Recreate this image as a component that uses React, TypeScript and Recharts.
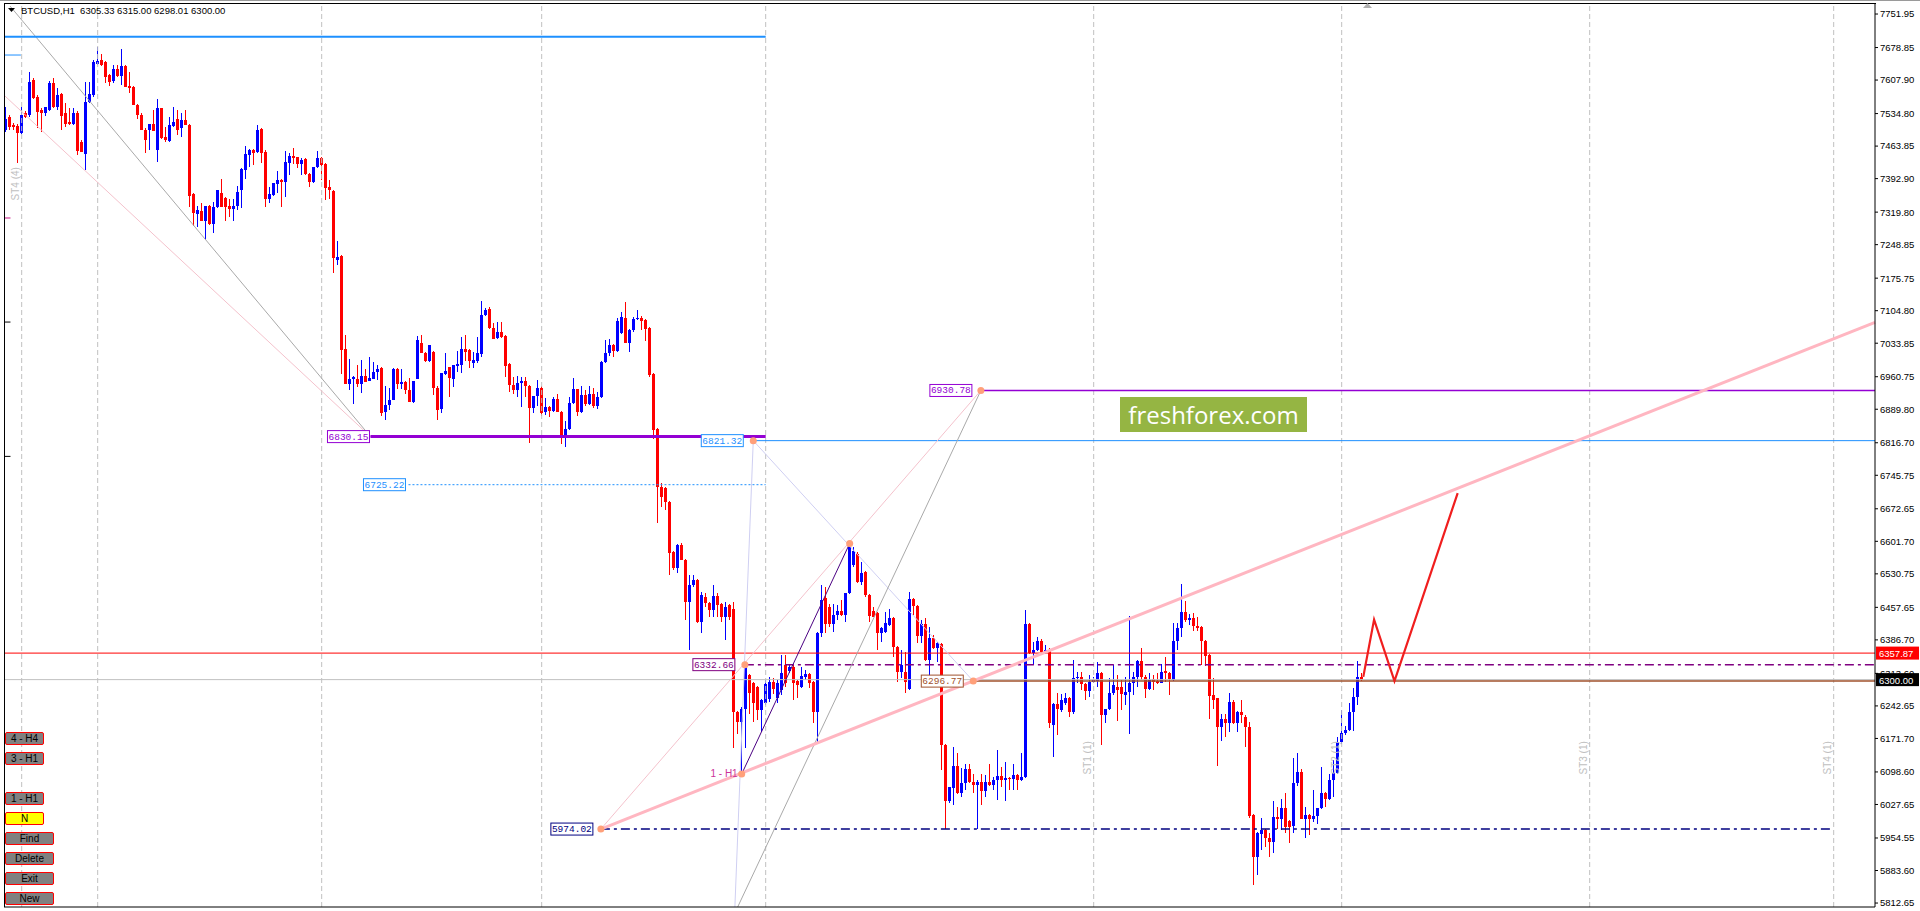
import React from "react";
import {
  Bar,
  ComposedChart,
  Line,
  ReferenceDot,
  ReferenceLine,
  XAxis,
  YAxis,
} from "recharts";

// BTCUSD H1, one row per bar: open, high, low, close
const ohlc: number[][] = [
  [7499, 7550, 7495, 7524], [7528, 7532, 7500, 7506], [7510, 7515, 7500, 7506], [7508, 7512, 7426, 7492],
  [7492, 7550, 7490, 7532], [7535, 7540, 7526, 7528], [7532, 7626, 7528, 7604], [7608, 7612, 7566, 7568],
  [7572, 7575, 7503, 7539], [7543, 7546, 7495, 7535], [7537, 7550, 7530, 7550], [7543, 7605, 7540, 7601],
  [7601, 7612, 7548, 7550], [7550, 7590, 7543, 7575], [7577, 7580, 7499, 7530], [7535, 7557, 7506, 7513],
  [7517, 7546, 7510, 7512], [7513, 7546, 7510, 7535], [7537, 7540, 7444, 7454], [7473, 7478, 7450, 7452],
  [7446, 7604, 7412, 7561], [7561, 7604, 7558, 7577], [7575, 7652, 7570, 7648], [7644, 7680, 7640, 7649],
  [7652, 7665, 7638, 7641], [7648, 7650, 7601, 7615], [7619, 7621, 7595, 7604], [7605, 7641, 7601, 7633],
  [7633, 7640, 7615, 7617], [7617, 7675, 7597, 7638], [7638, 7640, 7593, 7593], [7595, 7626, 7579, 7590],
  [7592, 7595, 7553, 7553], [7553, 7556, 7524, 7532], [7532, 7535, 7499, 7499], [7500, 7503, 7449, 7477],
  [7499, 7513, 7455, 7513], [7512, 7543, 7497, 7497], [7455, 7566, 7430, 7546], [7546, 7548, 7480, 7481],
  [7484, 7506, 7473, 7477], [7476, 7528, 7473, 7510], [7508, 7550, 7506, 7517], [7524, 7543, 7488, 7499],
  [7503, 7537, 7484, 7521], [7521, 7543, 7510, 7510], [7510, 7512, 7332, 7355], [7359, 7362, 7289, 7317],
  [7316, 7333, 7288, 7324], [7322, 7339, 7300, 7301], [7301, 7333, 7259, 7333], [7333, 7335, 7291, 7294],
  [7294, 7342, 7275, 7332], [7330, 7369, 7328, 7368], [7361, 7393, 7330, 7330], [7350, 7352, 7301, 7332],
  [7333, 7348, 7310, 7327], [7327, 7349, 7301, 7334], [7333, 7377, 7324, 7364], [7368, 7415, 7328, 7413],
  [7412, 7464, 7393, 7446], [7444, 7457, 7419, 7455], [7455, 7458, 7422, 7448], [7450, 7510, 7448, 7500],
  [7501, 7504, 7428, 7449], [7452, 7455, 7332, 7348], [7348, 7374, 7340, 7359], [7357, 7384, 7355, 7384],
  [7381, 7410, 7361, 7390], [7390, 7393, 7330, 7386], [7386, 7453, 7352, 7430], [7428, 7449, 7401, 7442],
  [7442, 7459, 7425, 7437], [7439, 7441, 7415, 7425], [7424, 7437, 7401, 7433], [7435, 7437, 7401, 7403],
  [7404, 7406, 7374, 7386], [7386, 7419, 7384, 7419], [7419, 7454, 7415, 7437], [7437, 7440, 7390, 7423],
  [7425, 7428, 7346, 7372], [7374, 7390, 7348, 7367], [7366, 7369, 7186, 7219], [7216, 7257, 7204, 7221],
  [7224, 7226, 6967, 7020], [7022, 7052, 6945, 6945], [6945, 6999, 6932, 6955], [6955, 6962, 6901, 6960],
  [6956, 6986, 6938, 6945], [6945, 6997, 6926, 6962], [6962, 6977, 6950, 6950], [6952, 7004, 6951, 6959],
  [6955, 6993, 6955, 6972], [6970, 6986, 6953, 6978], [6979, 6981, 6875, 6881], [6884, 6940, 6866, 6899],
  [6899, 6937, 6889, 6911], [6911, 6980, 6911, 6978], [6977, 6980, 6935, 6945], [6944, 6977, 6935, 6950],
  [6950, 6952, 6924, 6932], [6932, 6957, 6906, 6906], [6906, 6951, 6903, 6951], [6955, 7049, 6955, 7041],
  [7035, 7052, 7012, 7012], [7013, 7015, 6993, 6996], [6996, 7030, 6993, 7030], [7015, 7017, 6921, 6937],
  [6937, 6940, 6866, 6888], [6891, 6969, 6882, 6969], [6967, 7013, 6964, 6974], [6981, 6983, 6916, 6959],
  [6956, 6986, 6939, 6986], [6984, 7017, 6970, 6988], [6986, 7048, 6969, 7022], [7022, 7052, 6995, 7015],
  [7019, 7021, 6979, 6995], [6990, 7015, 6979, 6997], [6996, 7048, 6990, 7013], [7010, 7126, 7003, 7095],
  [7096, 7110, 7094, 7106], [7108, 7112, 7064, 7068], [7068, 7077, 7043, 7043], [7046, 7081, 7044, 7059],
  [7059, 7081, 7046, 7048], [7050, 7052, 6961, 6984], [6988, 6990, 6928, 6943], [6943, 6961, 6924, 6932],
  [6932, 6962, 6917, 6947], [6947, 6961, 6895, 6952], [6952, 6961, 6917, 6940], [6940, 6943, 6817, 6892],
  [6892, 6918, 6882, 6918], [6918, 6954, 6897, 6937], [6937, 6940, 6874, 6882], [6884, 6915, 6877, 6895],
  [6895, 6897, 6872, 6887], [6887, 6917, 6884, 6912], [6912, 6924, 6884, 6884], [6884, 6886, 6814, 6833],
  [6833, 6865, 6808, 6846], [6846, 6917, 6844, 6903], [6903, 6957, 6901, 6933], [6933, 6935, 6874, 6884],
  [6884, 6940, 6882, 6921], [6921, 6932, 6897, 6901], [6901, 6940, 6899, 6924], [6924, 6937, 6892, 6897],
  [6897, 6928, 6890, 6916], [6916, 6996, 6914, 6993], [6993, 7041, 6990, 7012], [7012, 7044, 7006, 7030],
  [7030, 7032, 7004, 7017], [7017, 7088, 7015, 7083], [7057, 7102, 7055, 7090], [7088, 7124, 7035, 7035],
  [7035, 7065, 7015, 7063], [7062, 7092, 7059, 7086], [7086, 7107, 7084, 7089], [7089, 7093, 7063, 7083],
  [7084, 7087, 7039, 7064], [7067, 7069, 6961, 6964], [6966, 6968, 6824, 6844], [6846, 6848, 6641, 6721],
  [6721, 6728, 6677, 6699], [6717, 6720, 6670, 6688], [6688, 6690, 6528, 6577], [6579, 6581, 6539, 6543],
  [6543, 6596, 6532, 6594], [6594, 6597, 6561, 6561], [6561, 6563, 6430, 6470], [6470, 6528, 6365, 6506],
  [6506, 6528, 6503, 6518], [6518, 6520, 6423, 6426], [6426, 6492, 6401, 6484], [6481, 6488, 6459, 6468],
  [6468, 6470, 6437, 6452], [6452, 6506, 6437, 6482], [6482, 6488, 6437, 6462], [6466, 6468, 6426, 6437],
  [6437, 6470, 6386, 6459], [6462, 6466, 6430, 6437], [6455, 6470, 6150, 6230], [6230, 6232, 6182, 6208],
  [6208, 6240, 6098, 6237], [6237, 6335, 6150, 6328], [6310, 6312, 6226, 6270], [6292, 6295, 6208, 6250],
  [6285, 6287, 6212, 6234], [6234, 6257, 6186, 6255], [6250, 6300, 6245, 6290], [6257, 6306, 6252, 6295],
  [6295, 6303, 6268, 6279], [6259, 6300, 6248, 6292], [6278, 6353, 6266, 6315], [6332, 6353, 6285, 6292],
  [6318, 6332, 6314, 6328], [6328, 6332, 6255, 6292], [6297, 6299, 6259, 6288], [6285, 6328, 6281, 6308],
  [6306, 6321, 6299, 6312], [6312, 6314, 6281, 6292], [6295, 6297, 6205, 6230], [6230, 6403, 6161, 6401],
  [6401, 6506, 6394, 6473], [6477, 6503, 6401, 6421], [6459, 6466, 6415, 6421], [6421, 6466, 6404, 6441],
  [6441, 6463, 6430, 6450], [6450, 6474, 6439, 6441], [6441, 6490, 6426, 6488], [6488, 6596, 6486, 6590],
  [6550, 6590, 6546, 6580], [6575, 6579, 6510, 6514], [6514, 6557, 6506, 6532], [6535, 6537, 6481, 6484],
  [6484, 6486, 6426, 6439], [6450, 6459, 6437, 6437], [6445, 6448, 6365, 6401], [6401, 6414, 6382, 6412],
  [6404, 6448, 6401, 6423], [6419, 6455, 6417, 6434], [6434, 6437, 6350, 6372], [6372, 6374, 6295, 6317],
  [6317, 6365, 6303, 6332], [6317, 6360, 6270, 6295], [6279, 6492, 6277, 6475], [6475, 6477, 6441, 6460],
  [6460, 6462, 6379, 6395], [6395, 6430, 6379, 6421], [6421, 6434, 6341, 6343], [6343, 6415, 6306, 6390],
  [6390, 6397, 6366, 6368], [6368, 6383, 6339, 6379], [6378, 6380, 6103, 6157], [6157, 6160, 5975, 6036],
  [6036, 6066, 6030, 6065], [6063, 6154, 6026, 6112], [6112, 6139, 6050, 6052], [6052, 6108, 6045, 6074],
  [6074, 6117, 6059, 6106], [6106, 6117, 6075, 6077], [6077, 6095, 6052, 6070], [6070, 6080, 5975, 6077],
  [6077, 6095, 6026, 6058], [6058, 6092, 6045, 6077], [6077, 6117, 6068, 6070], [6070, 6088, 6059, 6081],
  [6081, 6146, 6037, 6090], [6090, 6110, 6066, 6081], [6081, 6121, 6036, 6085], [6085, 6088, 6059, 6084],
  [6084, 6117, 6059, 6092], [6092, 6095, 6059, 6081], [6081, 6139, 6079, 6088], [6088, 6452, 6086, 6421],
  [6421, 6424, 6355, 6357], [6357, 6382, 6332, 6365], [6365, 6392, 6363, 6385], [6385, 6388, 6359, 6361],
  [6361, 6375, 6355, 6365], [6365, 6368, 6194, 6205], [6201, 6250, 6132, 6247], [6247, 6270, 6179, 6237],
  [6234, 6268, 6230, 6256], [6248, 6270, 6245, 6259], [6259, 6262, 6219, 6230], [6230, 6343, 6226, 6303],
  [6303, 6317, 6292, 6306], [6306, 6317, 6277, 6290], [6290, 6292, 6255, 6276], [6276, 6310, 6263, 6295],
  [6295, 6306, 6292, 6299], [6296, 6339, 6285, 6315], [6315, 6317, 6157, 6223], [6223, 6237, 6205, 6235],
  [6235, 6303, 6234, 6270], [6270, 6332, 6266, 6288], [6284, 6310, 6210, 6278], [6284, 6299, 6234, 6268],
  [6266, 6306, 6245, 6273], [6273, 6439, 6181, 6292], [6292, 6317, 6266, 6306], [6306, 6343, 6285, 6341],
  [6341, 6368, 6299, 6306], [6306, 6310, 6261, 6280], [6280, 6314, 6277, 6299], [6302, 6310, 6277, 6295],
  [6297, 6314, 6290, 6293], [6293, 6335, 6292, 6317], [6319, 6350, 6295, 6314], [6315, 6317, 6266, 6301],
  [6299, 6423, 6297, 6384], [6384, 6423, 6365, 6412], [6412, 6509, 6393, 6448], [6448, 6472, 6426, 6429],
  [6429, 6444, 6419, 6434], [6434, 6445, 6407, 6416], [6417, 6436, 6405, 6412], [6415, 6418, 6332, 6385],
  [6385, 6387, 6330, 6351], [6354, 6356, 6215, 6264], [6266, 6303, 6235, 6256], [6259, 6261, 6111, 6197],
  [6197, 6226, 6167, 6215], [6215, 6226, 6175, 6205], [6205, 6270, 6186, 6252], [6252, 6256, 6204, 6206],
  [6206, 6232, 6186, 6230], [6230, 6256, 6205, 6223], [6219, 6222, 6152, 6197], [6197, 6208, 5999, 6002],
  [6004, 6006, 5852, 5914], [5914, 5968, 5874, 5966], [5963, 5999, 5928, 5972], [5972, 5974, 5935, 5954],
  [5954, 5965, 5912, 5946], [5946, 6036, 5921, 6001], [6001, 6023, 5975, 5997], [5997, 6039, 5973, 6019],
  [6019, 6052, 5965, 5979], [5992, 5994, 5943, 5979], [5980, 6128, 5965, 6074], [6074, 6141, 6067, 6099],
  [6099, 6104, 5995, 5997], [5997, 6023, 5954, 6004], [6004, 6006, 5961, 5997], [5997, 6059, 5990, 6002],
  [6002, 6021, 5986, 6019], [6019, 6110, 6017, 6052], [6052, 6055, 6023, 6039], [6039, 6095, 6037, 6080],
  [6080, 6125, 6045, 6097], [6097, 6175, 6095, 6165], [6165, 6233, 6160, 6183], [6183, 6199, 6179, 6191],
  [6191, 6248, 6188, 6230], [6230, 6281, 6188, 6262], [6262, 6341, 6245, 6305], [6305.33, 6315, 6298.01, 6300],
];

const yTicks = [
  7751.95, 7678.85, 7607.9, 7534.8, 7463.85, 7392.9, 7319.8, 7248.85, 7175.75, 7104.8,
  7033.85, 6960.75, 6889.8, 6816.7, 6745.75, 6672.65, 6601.7, 6530.75, 6457.65, 6386.7,
  6313.6, 6242.65, 6171.7, 6098.6, 6027.65, 5954.55, 5883.6, 5812.65,
];
const xTicks = [
  0, 16, 32, 48, 64, 80, 96, 112, 128, 144, 160, 176, 192, 208, 224, 240, 256, 272, 288, 304,
  320, 336, 352, 368, 384, 400, 416, 432, 448, 464,
];

// vertical separator lines (bar index) and their names
const separators = [4, 23, 79, 134, 190, 272, 334, 396, 457];
const separatorNames = ["ST4 (4)", "", "", "", "", "ST1 (1)", "ST2 (1)", "ST3 (1)", "ST4 (1)"];

// red projected path after the last bar
const projIndex = [339.4, 342.1, 347.2, 363];
const projPrice = [6306, 6431, 6297, 6707];

// pivots of the drawn objects: [bar index, price]
const pivA = [148.8, 5974.02];
const pivB = [184, 6094];
const pivC = [184.8, 6332.66];
const pivD = [186.9, 6821.32];
const pivE = [211, 6597];
const pivF = [243.8, 6930.78];
const pivG = [241.9, 6296.77];
const lvl6830 = [91.2, 6830.15];
const lvl6725 = [100.7, 6725.22];
const topLevel = 7702.4;
const leftMarks = [7662.5, 7307, 7080, 6787];
const trendEnd = [467.33, 7079.3];
const fanStartGrey = [1.08, 7769.4];
const fanStartPink = [-0.17, 7573];
const askPrice = 6357.87;
const bidPrice = 6300.0;

const X_MIN = -0.42;
const X_MAX = 467.33;
const Y_MIN = 5804;
const Y_MAX = 7776;

const bars = ohlc.map(([o, h, l, c], i) => ({ i, o, h, l, c, range: [l, h] }));
const proj = projIndex.map((i, k) => ({ i, p: projPrice[k] }));

const UI_FONT = "'Liberation Sans', Arial, sans-serif";
const MONO = "'Liberation Mono', 'DejaVu Sans Mono', monospace";
const DASHDOT = "9 4 3 4";

function Candle(props: any) {
  const { x, y, width, height, payload } = props;
  if (x == null || y == null) return null;
  const { o, h, l, c } = payload;
  const top = Math.min(y, y + height);
  const span = Math.abs(height);
  const py = (p: number) => (h === l ? top : top + ((h - p) / (h - l)) * span);
  const color = c >= o ? "#0000FF" : "#FF0000";
  const cx = Math.floor(x + width / 2);
  const bTop = py(Math.max(o, c));
  const bBot = py(Math.min(o, c));
  return (
    <g shapeRendering="crispEdges">
      <line x1={cx + 0.5} x2={cx + 0.5} y1={top} y2={top + span} stroke={color} />
      <rect x={cx - 1} y={bTop} width={3} height={Math.max(1, bBot - bTop)} fill={color} />
    </g>
  );
}

const priceBox = (text: string, color: string, gap: number) => (p: any) => {
  const w = 42;
  const right = p.cx - gap;
  return (
    <g>
      <rect x={right - w} y={p.cy - 6} width={w} height={12} fill="#fff" stroke={color} strokeWidth={1} />
      <text
        x={right - w / 2}
        y={p.cy + 0.5}
        textAnchor="middle"
        dominantBaseline="central"
        fontSize={9.5}
        fontFamily={MONO}
        fill={color}
      >
        {text}
      </text>
    </g>
  );
};

const axisTag = (text: string, bg: string) => (p: any) => {
  const { x, y, width } = p.viewBox;
  const left = x + width + 1;
  return (
    <g>
      <rect x={left} y={y - 6.5} width={43} height={13} fill={bg} />
      <text x={left + 3} y={y + 0.5} dominantBaseline="central" fontSize={9.5} fontFamily={UI_FONT} fill="#fff">
        {text}
      </text>
    </g>
  );
};

const sepLabel = (text: string, frac: number) => (p: any) => {
  if (!text) return null;
  const { x, y, height } = p.viewBox;
  const tx = x - 6;
  const ty = y + height * frac;
  return (
    <text
      x={tx}
      y={ty}
      transform={`rotate(-90 ${tx} ${ty})`}
      textAnchor="middle"
      dominantBaseline="central"
      fontSize={10}
      fontFamily={UI_FONT}
      fill="#C0C0C0"
    >
      {text}
    </text>
  );
};

const dot = (p: any) => <circle cx={p.cx} cy={p.cy} r={3.5} fill="#FFA07A" />;

const buttons = [
  { label: "4 - H4", top: 732, w: 39, bg: "#808080" },
  { label: "3 - H1", top: 752, w: 39, bg: "#808080" },
  { label: "1 - H1", top: 792, w: 39, bg: "#808080" },
  { label: "N", top: 812, w: 39, bg: "#FFFF00" },
  { label: "Find", top: 832, w: 49, bg: "#808080" },
  { label: "Delete", top: 852, w: 49, bg: "#808080" },
  { label: "Exit", top: 872, w: 49, bg: "#808080" },
  { label: "New", top: 892, w: 49, bg: "#808080" },
];

export default function App() {
  return (
    <div style={{ position: "relative", width: 1920, height: 911, background: "#fff", overflow: "hidden" }}>
      <style>{`body{margin:0;}`}</style>
      <ComposedChart
        width={1920}
        height={911}
        data={bars}
        margin={{ top: 3, right: 0, bottom: 0, left: 4 }}
      >
        <XAxis
          type="number"
          dataKey="i"
          domain={[X_MIN, X_MAX]}
          allowDataOverflow
          ticks={xTicks}
          tick={false}
          tickSize={4}
          height={4}
          axisLine={{ stroke: "#000" }}
          tickLine={{ stroke: "#000" }}
        />
        <YAxis
          orientation="right"
          type="number"
          domain={[Y_MIN, Y_MAX]}
          allowDataOverflow
          ticks={yTicks}
          interval={0}
          width={45}
          tickSize={3}
          tickMargin={2}
          tickFormatter={(v) => Number(v).toFixed(2)}
          tick={{ fontSize: 9.5, fill: "#000", fontFamily: UI_FONT }}
          axisLine={{ stroke: "#000" }}
          tickLine={{ stroke: "#000" }}
        />

        {separators.map((s, k) => (
          <ReferenceLine
            key={`sep${k}`}
            x={s}
            stroke="#C0C0C0"
            strokeDasharray="5 3"
            label={sepLabel(separatorNames[k], k === 0 ? 0.2 : 0.835)}
          />
        ))}

        <Bar dataKey="range" barSize={3} shape={<Candle />} isAnimationActive={false} />

        {/* fan from the top-left into the 6830 level */}
        <ReferenceLine
          segment={[{ x: fanStartGrey[0], y: fanStartGrey[1] }, { x: lvl6830[0], y: lvl6830[1] }]}
          stroke="#A9A9A9"
        />
        <ReferenceLine
          segment={[{ x: fanStartPink[0], y: fanStartPink[1] }, { x: lvl6830[0], y: lvl6830[1] }]}
          stroke="#F4C2CC"
        />

        {/* horizontal levels */}
        <ReferenceLine segment={[{ x: X_MIN, y: topLevel }, { x: 190, y: topLevel }]} stroke="#1E90FF" strokeWidth={2} />
        {leftMarks.map((m, k) => (
          <ReferenceLine
            key={`lm${k}`}
            segment={[{ x: X_MIN, y: m }, { x: k === 0 ? 3.8 : 1.2, y: m }]}
            stroke={k === 0 ? "#1E90FF" : k === 1 ? "#C71585" : "#000"}
          />
        ))}
        <ReferenceLine segment={[{ x: lvl6830[0], y: lvl6830[1] }, { x: 190, y: lvl6830[1] }]} stroke="#9400D3" strokeWidth={3} />
        <ReferenceLine
          segment={[{ x: lvl6725[0], y: lvl6725[1] }, { x: 190, y: lvl6725[1] }]}
          stroke="#1E90FF"
          strokeDasharray="2 2"
        />
        <ReferenceLine segment={[{ x: pivD[0], y: pivD[1] }, { x: X_MAX, y: pivD[1] }]} stroke="#1E90FF" />
        <ReferenceLine segment={[{ x: pivF[0], y: pivF[1] }, { x: X_MAX, y: pivF[1] }]} stroke="#9400D3" strokeWidth={1.5} />
        <ReferenceLine y={askPrice} stroke="#FF0000" label={axisTag(askPrice.toFixed(2), "#FF0000")} />
        <ReferenceLine y={bidPrice} stroke="#C0C0C0" label={axisTag(bidPrice.toFixed(2), "#000")} />
        <ReferenceLine segment={[{ x: pivG[0], y: pivG[1] }, { x: X_MAX, y: pivG[1] }]} stroke="#A0522D" strokeWidth={1.5} />
        <ReferenceLine
          segment={[{ x: pivC[0], y: pivC[1] }, { x: X_MAX, y: pivC[1] }]}
          stroke="#800080"
          strokeWidth={1.5}
          strokeDasharray={DASHDOT}
        />
        <ReferenceLine
          segment={[{ x: pivA[0], y: pivA[1] }, { x: 457, y: pivA[1] }]}
          stroke="#000080"
          strokeWidth={1.5}
          strokeDasharray={DASHDOT}
        />

        {/* projections */}
        <ReferenceLine segment={[{ x: pivD[0], y: pivD[1] }, { x: 182.3, y: Y_MIN }]} stroke="#CFCFF2" />
        <ReferenceLine segment={[{ x: pivD[0], y: pivD[1] }, { x: pivG[0], y: pivG[1] }]} stroke="#CFCFF2" />
        <ReferenceLine segment={[{ x: 183, y: Y_MIN }, { x: pivF[0], y: pivF[1] }]} stroke="#A9A9A9" />
        <ReferenceLine segment={[{ x: pivA[0], y: pivA[1] }, { x: pivF[0], y: pivF[1] }]} stroke="#F4C2CC" />
        <ReferenceLine segment={[{ x: pivB[0], y: pivB[1] }, { x: pivE[0], y: pivE[1] }]} stroke="#4B0082" />
        <ReferenceLine
          segment={[{ x: pivA[0], y: pivA[1] }, { x: trendEnd[0], y: trendEnd[1] }]}
          stroke="#FFB6C1"
          strokeWidth={3}
        />

        <Line
          data={proj}
          dataKey="p"
          stroke="#F01E1E"
          strokeWidth={2.2}
          dot={false}
          isAnimationActive={false}
          type="linear"
        />

        {/* pivot dots and price boxes */}
        {[pivA, pivB, pivC, pivD, pivE, pivF, pivG].map((pv, k) => (
          <ReferenceDot key={`d${k}`} x={pv[0]} y={pv[1]} r={3.5} shape={dot} />
        ))}
        <ReferenceDot x={lvl6830[0]} y={lvl6830[1]} r={0} shape={priceBox("6830.15", "#9400D3", 1)} />
        <ReferenceDot x={lvl6725[0]} y={lvl6725[1]} r={0} shape={priceBox("6725.22", "#1E90FF", 3)} />
        <ReferenceDot x={pivD[0]} y={pivD[1]} r={0} shape={priceBox("6821.32", "#1E90FF", 10)} />
        <ReferenceDot x={pivF[0]} y={pivF[1]} r={0} shape={priceBox("6930.78", "#9400D3", 9)} />
        <ReferenceDot x={pivC[0]} y={pivC[1]} r={0} shape={priceBox("6332.66", "#800080", 10)} />
        <ReferenceDot x={pivG[0]} y={pivG[1]} r={0} shape={priceBox("6296.77", "#A0522D", 10)} />
        <ReferenceDot x={pivA[0]} y={pivA[1]} r={0} shape={priceBox("5974.02", "#000080", 8)} />
        <ReferenceDot
          x={pivB[0]}
          y={pivB[1]}
          r={0}
          shape={(p: any) => (
            <text
              x={p.cx - 4}
              y={p.cy - 1}
              textAnchor="end"
              dominantBaseline="central"
              fontSize={10}
              fontFamily={UI_FONT}
              fill="#CC3399"
            >
              1 - H1
            </text>
          )}
        />
      </ComposedChart>

      {/* frame */}
      <div style={{ position: "absolute", left: 0, top: 0, width: 1920, height: 1, background: "#9a9a9a" }} />
      <div style={{ position: "absolute", left: 4, top: 3, width: 1872, height: 1, background: "#000" }} />
      <div style={{ position: "absolute", left: 4, top: 3, width: 1, height: 904, background: "#000" }} />
      <svg style={{ position: "absolute", left: 1363, top: 3 }} width={9} height={6}>
        <polygon points="0,5 4.5,0 9,5" fill="#B0B0B0" />
      </svg>

      {/* header */}
      <div
        style={{
          position: "absolute",
          left: 8,
          top: 5,
          fontFamily: UI_FONT,
          fontSize: 9.5,
          lineHeight: "12px",
          color: "#000",
          whiteSpace: "pre",
          display: "flex",
          alignItems: "center",
        }}
      >
        <svg width={9} height={6} style={{ marginRight: 4 }}>
          <polygon points="0,0 7,0 3.5,4" fill="#000" />
        </svg>
        {"BTCUSD,H1  6305.33 6315.00 6298.01 6300.00"}
      </div>

      {/* watermark */}
      <div
        style={{
          position: "absolute",
          left: 1120,
          top: 397,
          width: 187,
          height: 35,
          background: "#95B543",
          color: "#fff",
          fontFamily: "'Open Sans', 'Noto Sans', sans-serif",
          fontSize: 24,
          lineHeight: "35px",
          textAlign: "center",
        }}
      >
        freshforex.com
      </div>

      {/* panel buttons */}
      {buttons.map((b) => (
        <div
          key={b.label}
          style={{
            position: "absolute",
            left: 5,
            top: b.top,
            width: b.w,
            height: 13,
            boxSizing: "border-box",
            border: "1px solid #FF0000",
            borderRadius: 2,
            background: b.bg,
            fontFamily: UI_FONT,
            fontSize: 10,
            lineHeight: "11px",
            textAlign: "center",
            color: "#000",
          }}
        >
          {b.label}
        </div>
      ))}
    </div>
  );
}
